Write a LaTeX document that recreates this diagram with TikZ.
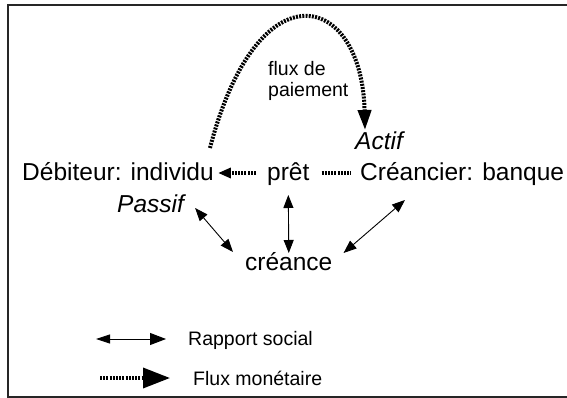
\documentclass[tikz,border=0pt]{standalone}
\usepackage{fontspec}
\setmainfont{Liberation Sans}
\usetikzlibrary{arrows.meta}

\begin{document}
\begin{tikzpicture}[x=1pt,y=-1pt,
	lbl/.style={inner sep=0pt,anchor=base west,font=\fontsize{24.5}{29}\selectfont},
	small/.style={inner sep=0pt,font=\fontsize{19.5}{21.5}\selectfont},
	rapport/.style={line width=0.9pt,{Triangle[length=13pt,width=10pt]}-{Triangle[length=13pt,width=10pt]}},
	flux/.style={line width=3.5pt,dash pattern=on 2pt off 1.2pt},
	]
	\useasboundingbox (0,0) rectangle (567,398);
	\draw[line width=1.6pt,black!85] (8,5) rectangle (580,397);

	\node[lbl] (deb) at (22,181) {Débiteur: individu};
	\node[lbl] (pret) at (267,181) {prêt};
	\node[lbl] (cre) at (360,181) {Créancier: banque};
	\node[lbl,font=\fontsize{24.5}{29}\selectfont\itshape] (actif) at (355,150) {Actif};
	\node[lbl,font=\fontsize{24.5}{29}\selectfont\itshape] (passif) at (117,212) {Passif};
	\node[lbl] (creance) at (245,270) {créance};
	\node[small,anchor=north west,align=left] (paie) at (268,61) {flux de\\paiement};

	\draw[flux,-{Triangle[length=13pt,width=10pt]}] ([xshift=-11pt,yshift=8pt]pret.base west) -- ([xshift=4pt,yshift=8pt]deb.base east);
	\draw[flux] ([xshift=12pt,yshift=8pt]pret.base east) -- ([xshift=-9pt,yshift=8pt]cre.base west);
	\draw[flux,line width=4pt,-{Triangle[length=20pt,width=13pt]}] ([xshift=-4pt,yshift=33pt]deb.base east) .. controls (258,-36) and (362,-8) .. ([xshift=10pt,yshift=20pt]actif.base west);

	\draw[rapport] ([yshift=-14pt]pret.base) -- ([yshift=17pt]creance.base);
	\draw[rapport] ([xshift=11pt,yshift=4pt]passif.base east) -- ([xshift=-12pt,yshift=18pt]creance.base west);
	\draw[rapport] ([xshift=45pt,yshift=-19pt]cre.base west) -- ([xshift=11pt,yshift=17pt]creance.base east);

	\node[small,anchor=base west] (rap) at (188,345) {Rapport social};
	\node[small,anchor=base west] (mon) at (193,385) {Flux monétaire};
	\coordinate (r1) at (96,339);
	\coordinate (m1) at (100,378);
	\draw[line width=0.9pt,{Triangle[length=14pt,width=9pt]}-{Triangle[length=16pt,width=12pt]}] (r1) -- ([xshift=-22pt,yshift=6pt]rap.base west);
	\draw[flux,-{Triangle[length=27pt,width=20pt]}] (m1) -- ([xshift=-23pt,yshift=7pt]mon.base west);
\end{tikzpicture}
\end{document}
